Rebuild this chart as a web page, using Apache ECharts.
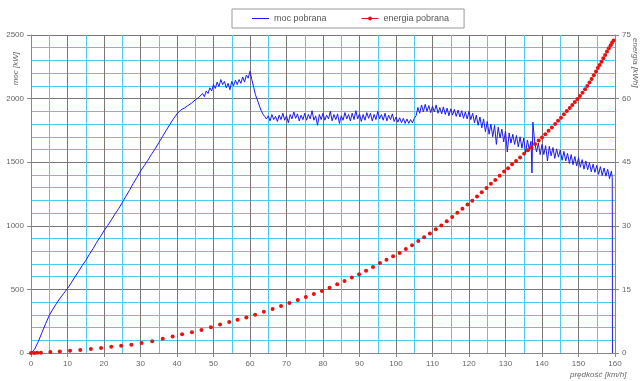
<!DOCTYPE html>
<html><head><meta charset="utf-8">
<script src="https://cdn.jsdelivr.net/npm/echarts@6/dist/echarts.min.js"></script>
<style>html,body{margin:0;padding:0;background:#fff}#c{width:643px;height:381px}</style>
</head><body><div id="c"></div>
<script>
// speed [km/h], power [kW]
var mocPobrana = [
[0,0],[1,30],[2,90],[3,160],[4,230],[5,295],[6,345],[7,390],[8,432],[9,470],[10,507],[11,550],[12,596],[13,640],[14,686],[15,727],[16,776],[17,820],[18,870],[19,914],[20,961],[21,1002],[22,1045],[23,1092],[24,1135],[25,1182],[26,1232],[27,1280],[28,1332],[29,1380],[30,1430],[31,1472],[32,1515],[33,1562],[34,1605],[35,1652],[36,1700],[37,1748],[38,1795],[39,1840],
[40,1880],[40.5,1895],[41,1910],[41.5,1900],[42,1925],[42.5,1915],[43,1945],[43.5,1930],[44,1965],[44.5,1950],[45,1990],[45.5,1975],[46,2010],[46.5,1995],[47,2040],[47.5,2015],[48,2060],[48.5,2040],[49,2085],[49.5,2060],[50,2110],[50.5,2080],[51,2130],[51.5,2095],[52,2150],[52.5,2110],[53,2135],[53.5,2085],[54,2120],[54.5,2070],[55,2135],[55.5,2100],[56,2145],[56.5,2110],[57,2150],[57.5,2120],[58,2170],[58.5,2130],[59,2185],[59.5,2160],[60,2215],
[60.5,2150],[61,2090],[61.5,2030],[62,1990],[62.5,1950],[63,1910],[63.5,1880],[64,1860],[64.5,1840],
[65,1865],[65.5,1825],[66,1875],[66.5,1835],[67,1860],[67.5,1820],[68,1870],[68.5,1835],[69,1885],[69.5,1830],[70,1865],[70.5,1810],[71,1875],[71.5,1840],[72,1895],[72.5,1845],[73,1880],[73.5,1825],[74,1870],[74.5,1835],[75,1885],[75.5,1830],[76,1875],[76.5,1840],[77,1905],[77.5,1830],[78,1865],[78.5,1790],[79,1875],[79.5,1835],[80,1885],[80.5,1830],[81,1870],[81.5,1840],[82,1900],[82.5,1825],[83,1875],[83.5,1835],[84,1880],[84.5,1805],[85,1865],[85.5,1830],[86,1890],[86.5,1840],[87,1875],[87.5,1825],[88,1885],[88.5,1835],[89,1905],[89.5,1840],[90,1880],[90.5,1820],[91,1875],[91.5,1830],[92,1890],[92.5,1845],[93,1885],[93.5,1825],[94,1875],[94.5,1835],[95,1900],[95.5,1840],[96,1875],[96.5,1830],[97,1885],[97.5,1825],[98,1870],[98.5,1835],[99,1880],[99.5,1820],[100,1855],[100.5,1815],[101,1850],[101.5,1810],[102,1845],[102.5,1805],[103,1840],[103.5,1805],[104,1835],[104.5,1810],[105,1845],[105.5,1865],
[106,1930],[106.5,1885],[107,1950],[107.5,1895],[108,1955],[108.5,1900],[109,1945],[109.5,1890],[110,1940],[110.5,1895],[111,1950],[111.5,1885],[112,1930],[112.5,1880],[113,1935],[113.5,1875],[114,1925],[114.5,1865],[115,1920],[115.5,1870],[116,1915],[116.5,1860],[117,1910],[117.5,1855],[118,1905],[118.5,1845],[119,1895],[119.5,1840],
[120,1900],[120.5,1835],[121,1885],[121.5,1810],[122,1870],[122.5,1790],[123,1855],[123.5,1770],[124,1840],[124.5,1740],[125,1820],[125.5,1720],[126,1800],[126.5,1700],[127,1790],[127.5,1640],[128,1775],[128.5,1690],[129,1760],[129.5,1660],[130,1745],[130.5,1580],[131,1730],[131.5,1650],[132,1720],[132.5,1640],[133,1710],[133.5,1620],[134,1700],[134.5,1610],[135,1690],[135.5,1570],[136,1675],[136.5,1600],[137,1665],[137.25,1415],[137.5,1815],[138,1655],[138.5,1580],[139,1650],[139.5,1560],[140,1640],[140.5,1560],[141,1630],[141.5,1510],[142,1625],[142.5,1550],[143,1615],[143.5,1530],[144,1605],[144.5,1540],[145,1595],[145.5,1515],[146,1585],[146.5,1510],[147,1570],[147.5,1490],[148,1560],[148.5,1480],[149,1545],[149.5,1470],[150,1535],[150.5,1460],[151,1520],[151.5,1445],[152,1510],[152.5,1440],[153,1495],[153.5,1425],[154,1485],[154.5,1420],[155,1475],[155.5,1405],[156,1465],[156.5,1395],[157,1455],[157.5,1390],[158,1445],[158.5,1370],[159,1430],[159.25,1380],[159.3,0]
];
// speed [km/h], energy [kWh]
var energiaPobrana = [
[0,0],[0.9,0.02],[1.7,0.05],[2.7,0.08],[5.3,0.22],[7.9,0.38],[10.7,0.55],[13.5,0.72],[16.4,0.95],[19.2,1.2],[22,1.45],[24.7,1.7],[27.5,1.95],[30.3,2.33],[33.2,2.8],[36.1,3.35],[38.8,3.9],[41.4,4.45],[44.1,4.9],[46.7,5.45],[49.3,6.1],[51.8,6.7],[54.3,7.3],[56.6,7.85],[59.0,8.4],[61.4,9.0],
[63.8,9.7],[66.2,10.4],[68.5,11.1],[70.8,11.8],[73.1,12.5],[75.3,13.2],[77.5,13.9],[79.7,14.6],[81.8,15.4],[83.9,16.2],[85.9,17.0],[87.9,17.8],[89.9,18.6],[91.8,19.4],[93.7,20.3],[95.6,21.2],[97.4,22.0],[99.2,22.8],
[101.0,23.6],[102.7,24.5],[104.4,25.4],[106.1,26.4],[107.7,27.3],[109.3,28.2],[110.9,29.2],[112.4,30.1],[113.9,31.1],[115.4,32.1],[116.8,33.1],[118.2,34.0],[119.6,35.0],[120.9,35.9],[122.2,36.9],[123.5,37.9],[124.8,38.9],[126.0,39.9],[127.2,40.8],[128.4,41.8],[129.6,42.8],[130.7,43.6],[131.8,44.5],[132.9,45.3],[134.0,46.1],[135.1,47.0],[136.1,47.8],[137.1,48.5],[138.1,49.3],[139.1,50.1],[140.0,50.8],[140.9,51.6],[141.8,52.4],[142.7,53.2],[143.6,54.0],[144.4,54.8],[145.2,55.5],[146.0,56.3],[146.8,57.1],[147.6,57.8],[148.3,58.5],[149.0,59.2],[149.7,59.9],[150.4,60.6],[151.1,61.4],[151.8,62.2],[152.4,63.0],[153.0,63.8],[153.6,64.6],[154.2,65.5],[154.8,66.4],[155.3,67.2],[155.8,67.9],[156.3,68.7],[156.8,69.5],[157.3,70.3],[157.8,71.1],[158.3,71.9],[158.8,72.6],[159.2,73.2],[159.6,73.7]
];
var xTicks = {min:0, max:160, step:10};
var yLeftTicks = {min:0, max:2500, step:500};
var yRightTicks = {min:0, max:75, step:15};
var seriesNames = ['moc pobrana','energia pobrana'];
var axisNames = {left:'moc [kW]', right:'energia [kWh]', bottom:'prędkość [km/h]'};

var FONT = 'Liberation Sans';
function lbl(){ return {fontFamily:FONT, fontSize:8, color:'#666', margin:7, formatter:function(v){return String(v);}}; }
var chart = echarts.init(document.getElementById('c'), null, {renderer:'canvas'});
chart.setOption({
  animation:false,
  backgroundColor:'#fff',
  grid:{left:31, right:28, top:35, bottom:28, containLabel:false},
  legend:{
    left:232, top:9, orient:'horizontal',
    padding:[5,15,5,20], itemGap:35, itemWidth:17, itemHeight:8,
    borderColor:'#999', borderWidth:1,
    textStyle:{fontFamily:FONT, fontSize:9, color:'#555'},
    data:[
      {name:seriesNames[0], icon:'path://M0,0L17,0L17,1L0,1Z'},
      {name:seriesNames[1], icon:'path://M0,1.6L17,1.6L17,2.4L0,2.4Z M6.5,2A2,2 0 1 1 10.5,2A2,2 0 1 1 6.5,2Z'}
    ]
  },
  xAxis:{
    type:'value', min:xTicks.min, max:xTicks.max, interval:xTicks.step,
    axisLine:{lineStyle:{color:'#888'}},
    axisTick:{show:true, length:4, lineStyle:{color:'#888'}},
    axisLabel:lbl(),
    splitLine:{show:true, lineStyle:{color:'#777', width:1}},
    minorTick:{show:false, splitNumber:2},
    minorSplitLine:{show:true, lineStyle:{color:'#4ccbef', width:1}}
  },
  yAxis:[{
    type:'value', min:yLeftTicks.min, max:yLeftTicks.max, interval:yLeftTicks.step,
    axisLine:{show:true, lineStyle:{color:'#888'}},
    axisTick:{show:true, length:4, lineStyle:{color:'#888'}},
    axisLabel:lbl(),
    splitLine:{show:true, lineStyle:{color:'#777', width:1}},
    minorTick:{show:false, splitNumber:5},
    minorSplitLine:{show:true, lineStyle:{color:'#4ccbef', width:1}}
  },{
    type:'value', position:'right', min:yRightTicks.min, max:yRightTicks.max, interval:yRightTicks.step,
    axisLine:{show:true, lineStyle:{color:'#888'}},
    axisTick:{show:true, length:4, lineStyle:{color:'#888'}},
    axisLabel:lbl(),
    splitLine:{show:false}
  }],
  series:[{
    name:seriesNames[0], type:'line', yAxisIndex:0, data:mocPobrana,
    showSymbol:false, symbol:'none', sampling:null,
    lineStyle:{color:'#1a1af5', width:1}, itemStyle:{color:'#1a1af5'}
  },{
    name:seriesNames[1], type:'line', yAxisIndex:1, data:energiaPobrana,
    symbol:'circle', symbolSize:4, showAllSymbol:true,
    lineStyle:{opacity:0, width:0}, itemStyle:{color:'#e81010'}
  }],
  graphic:[
    {type:'text', left:12, top:52, rotation:Math.PI/2, style:{text:axisNames.left, font:'italic 8px "Liberation Sans"', fill:'#666'}},
    {type:'text', left:631, top:38, rotation:-Math.PI/2, style:{text:axisNames.right, font:'italic 8px "Liberation Sans"', fill:'#666'}},
    {type:'text', left:570, top:371, style:{text:axisNames.bottom, font:'italic 8px "Liberation Sans"', fill:'#666'}}
  ]
});
</script></body></html>
